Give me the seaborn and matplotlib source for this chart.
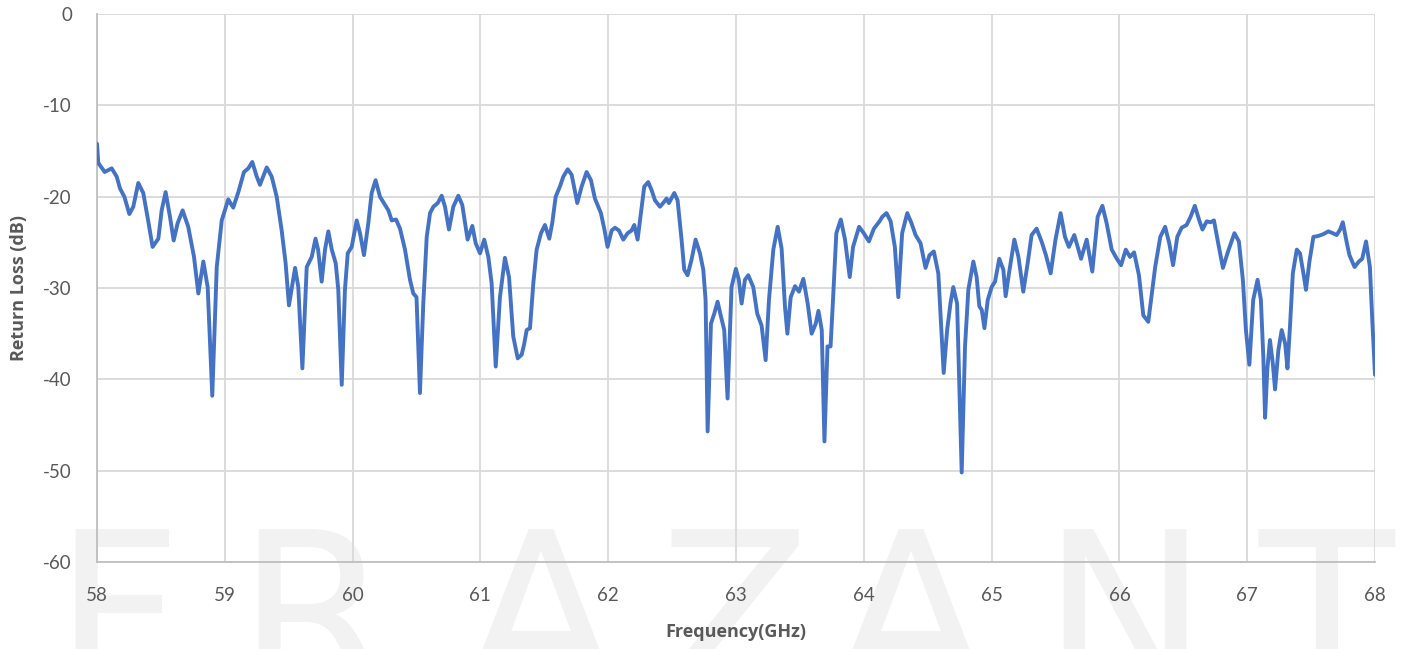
import matplotlib
matplotlib.use("Agg")
import matplotlib.pyplot as plt
from matplotlib.ticker import MultipleLocator
import seaborn as sns
import pandas as pd

freq_ghz = [
    58.00, 58.01, 58.06, 58.115, 58.154, 58.18, 58.214, 58.253, 58.284, 58.323,
    58.362, 58.40, 58.435, 58.48, 58.506, 58.537, 58.571, 58.60, 58.631, 58.67,
    58.714, 58.759, 58.793, 58.832, 58.866, 58.902, 58.937, 58.976, 59.027, 59.066,
    59.106, 59.15, 59.184, 59.215, 59.25, 59.275, 59.328, 59.367, 59.406, 59.445,
    59.476, 59.502, 59.55, 59.575, 59.607, 59.641, 59.68, 59.71, 59.73, 59.758,
    59.784, 59.81, 59.837, 59.868, 59.888, 59.915, 59.94, 59.962, 59.993, 60.032,
    60.058, 60.089, 60.123, 60.149, 60.18, 60.214, 60.254, 60.28, 60.306, 60.34,
    60.371, 60.41, 60.449, 60.475, 60.50, 60.527, 60.553, 60.58, 60.606, 60.632,
    60.666, 60.697, 60.723, 60.754, 60.788, 60.827, 60.858, 60.90, 60.937, 60.963,
    60.997, 61.03, 61.062, 61.088, 61.12, 61.153, 61.192, 61.224, 61.257, 61.292,
    61.323, 61.343, 61.362, 61.388, 61.414, 61.44, 61.474, 61.505, 61.539, 61.562,
    61.589, 61.622, 61.649, 61.683, 61.714, 61.758, 61.792, 61.831, 61.865, 61.896,
    61.943, 61.969, 61.995, 62.027, 62.053, 62.084, 62.118, 62.152, 62.183, 62.204,
    62.23, 62.256, 62.282, 62.313, 62.34, 62.366, 62.405, 62.436, 62.457, 62.475,
    62.517, 62.543, 62.574, 62.595, 62.621, 62.652, 62.684, 62.718, 62.744, 62.762,
    62.778, 62.804, 62.83, 62.856, 62.882, 62.908, 62.934, 62.965, 62.999, 63.022,
    63.044, 63.07, 63.096, 63.135, 63.166, 63.20, 63.232, 63.258, 63.292, 63.326,
    63.357, 63.383, 63.402, 63.428, 63.462, 63.493, 63.527, 63.561, 63.592, 63.624,
    63.645, 63.671, 63.692, 63.716, 63.74, 63.759, 63.785, 63.82, 63.853, 63.89,
    63.916, 63.963, 64.0, 64.04, 64.079, 64.123, 64.145, 64.178, 64.21, 64.243,
    64.27, 64.30, 64.34, 64.373, 64.405, 64.444, 64.483, 64.514, 64.548, 64.583,
    64.607, 64.625, 64.652, 64.678, 64.70, 64.73, 64.745, 64.766, 64.792, 64.818,
    64.857, 64.883, 64.904, 64.923, 64.944, 64.97, 65.0, 65.027, 65.06, 65.092,
    65.11, 65.136, 65.178, 65.21, 65.248, 65.282, 65.313, 65.352, 65.391, 65.425,
    65.462, 65.50, 65.54, 65.574, 65.605, 65.647, 65.70, 65.744, 65.788, 65.83,
    65.867, 65.90, 65.94, 65.98, 66.013, 66.05, 66.083, 66.115, 66.153, 66.187,
    66.226, 66.28, 66.32, 66.358, 66.39, 66.42, 66.453, 66.487, 66.526, 66.557,
    66.59, 66.625, 66.65, 66.683, 66.713, 66.74, 66.773, 66.81, 66.85, 66.90,
    66.935, 66.966, 66.99, 67.017, 67.047, 67.081, 67.107, 67.126, 67.14, 67.157,
    67.178, 67.20, 67.218, 67.244, 67.27, 67.297, 67.315, 67.336, 67.357, 67.388,
    67.413, 67.44, 67.46, 67.487, 67.518, 67.557, 67.596, 67.635, 67.67, 67.70,
    67.727, 67.748, 67.78, 67.80, 67.84, 67.874, 67.90, 67.93, 67.96, 67.98,
    68.0,
]

return_loss_db = [
    -14.2, -16.3, -17.3, -16.9, -17.8, -19.1, -20.0, -21.9, -21.1, -18.5,
    -19.6, -22.6, -25.5, -24.6, -21.5, -19.5, -22.2, -24.8, -22.9, -21.5,
    -23.3, -26.6, -30.6, -27.1, -29.9, -41.8, -27.7, -22.6, -20.3, -21.2,
    -19.5, -17.3, -16.9, -16.2, -17.8, -18.7, -16.8, -17.8, -20.0, -23.7,
    -27.3, -31.9, -27.8, -29.9, -38.8, -27.7, -26.6, -24.6, -25.8, -29.3,
    -25.8, -23.8, -25.8, -27.3, -30.2, -40.6, -30.2, -26.2, -25.5, -22.6,
    -24.0, -26.4, -22.9, -19.6, -18.2, -20.0, -20.9, -21.5, -22.6, -22.5,
    -23.5, -25.8, -29.1, -30.6, -31.0, -41.5, -31.7, -24.4, -21.8, -21.1,
    -20.7, -19.9, -21.1, -23.6, -21.1, -19.9, -20.9, -24.7, -23.2, -25.1,
    -26.2, -24.7, -26.6, -29.5, -38.6, -31.0, -26.7, -28.8, -35.3, -37.7,
    -37.3, -36.1, -34.6, -34.4, -29.5, -25.8, -24.0, -23.1, -24.6, -22.9,
    -20.0, -18.9, -17.8, -17.0, -17.6, -20.7, -18.9, -17.3, -18.2, -20.2,
    -21.8, -23.5, -25.5, -23.7, -23.4, -23.7, -24.7, -24.0, -23.7, -23.1,
    -24.7, -21.8, -18.9, -18.4, -19.3, -20.4, -21.1, -20.6, -20.2, -20.7,
    -19.6, -20.4, -24.7, -28.0, -28.6, -26.9, -24.7, -26.2, -28.0, -31.3,
    -45.7, -33.9, -32.8, -31.5, -33.1, -34.6, -42.1, -29.9, -27.9, -29.1,
    -31.7, -29.1, -28.6, -29.9, -32.8, -34.1, -37.9, -31.3, -25.8, -23.3,
    -25.7, -32.0, -35.0, -31.0, -29.8, -30.4, -29.0, -31.7, -35.0, -33.9,
    -32.5, -34.6, -46.8, -36.4, -36.4, -31.3, -24.0, -22.5, -24.7, -28.8,
    -25.5, -23.3, -24.0, -24.9, -23.5, -22.7, -22.2, -21.8, -22.7, -25.5,
    -31.0, -24.0, -21.8, -22.9, -24.2, -25.1, -27.8, -26.4, -26.0, -28.4,
    -34.6, -39.3, -34.6, -31.7, -29.9, -31.7, -39.3, -50.2, -36.4, -30.2,
    -27.1, -28.8, -32.0, -32.4, -34.4, -31.3, -29.9, -29.3, -26.8, -28.0,
    -30.9, -28.4, -24.7, -26.6, -30.4, -27.3, -24.2, -23.5, -24.9, -26.4,
    -28.4, -24.7, -21.8, -24.4, -25.5, -24.2, -26.8, -24.7, -28.2, -22.2,
    -21.0, -22.9, -25.8, -26.8, -27.5, -25.8, -26.6, -26.1, -28.6, -33.0,
    -33.7, -27.7, -24.4, -23.3, -25.1, -27.5, -24.4, -23.4, -23.1, -22.2,
    -21.0, -22.6, -23.6, -22.7, -22.8, -22.6, -25.1, -27.8, -26.0, -24.0,
    -24.9, -29.1, -34.6, -38.4, -31.3, -29.1, -31.3, -37.5, -44.2, -39.0,
    -35.7, -38.2, -41.1, -36.8, -34.6, -36.1, -38.8, -33.9, -28.4, -25.8,
    -26.2, -28.4, -30.2, -27.1, -24.4, -24.3, -24.1, -23.8, -24.0, -24.2,
    -23.6, -22.8, -25.1, -26.4, -27.7, -27.1, -26.8, -24.9, -27.7, -33.9,
    -39.5,
]

x_ticks = [58, 59, 60, 61, 62, 63, 64, 65, 66, 67, 68]
y_ticks = [0, -10, -20, -30, -40, -50, -60]
watermark_letters = ["F", "R", "A", "Z", "A", "N", "T"]
x_label = "Frequency(GHz)"
y_label = "Return Loss (dB)"

df = pd.DataFrame({"freq": freq_ghz, "rl": return_loss_db})

sns.set_theme(style="white")
plt.rcParams["font.family"] = ["Lato", "DejaVu Sans"]

W, H = 1401, 649
fig = plt.figure(figsize=(W / 100, H / 100), dpi=100, facecolor="white")
ax = fig.add_axes([97 / W, 1 - 562 / H, (1375 - 97) / W, (562 - 14) / H])
ax.set_facecolor("none")
ax.set_zorder(2)

# Watermark
wm_centers = [117, 313, 540, 735, 910, 1124, 1326]
for letter, cx in zip(watermark_letters, wm_centers):
    fig.text(cx / W, 1 - 690 / H, letter, ha="center", va="baseline",
             fontsize=160, color="#f2f2f2", family="DejaVu Sans", zorder=0)

sns.lineplot(data=df, x="freq", y="rl", ax=ax, color="#4472C4", linewidth=2.8,
             estimator=None, sort=True, legend=False, zorder=3)
for ln in ax.lines:
    ln.set_solid_joinstyle("round")
    ln.set_solid_capstyle("round")

ax.set_xlim(58, 68)
ax.set_ylim(-60, 0)
ax.set_xticks(x_ticks)
ax.set_yticks(y_ticks)
ax.set_xticklabels([str(t) for t in x_ticks])
ax.set_yticklabels([str(t) for t in y_ticks])
ax.xaxis.set_minor_locator(MultipleLocator(0.2))
ax.yaxis.set_minor_locator(MultipleLocator(2))

ax.grid(True, which="major", color="#d9d9d9", linewidth=1.3, zorder=1)
ax.set_axisbelow(True)

for side in ["top", "right"]:
    ax.spines[side].set_visible(False)
for side in ["left", "bottom"]:
    ax.spines[side].set_visible(True)
    ax.spines[side].set_color("#bfbfbf")
    ax.spines[side].set_linewidth(1.3)

ax.tick_params(axis="both", which="both", direction="in", color="#bfbfbf",
               width=1.0, labelsize=13.5, labelcolor="#595959")
ax.tick_params(axis="both", which="major", length=0)
ax.tick_params(axis="both", which="minor", length=5)
ax.tick_params(axis="x", which="major", pad=18)
ax.tick_params(axis="y", which="major", pad=18)

ax.set_xlabel(x_label, fontsize=13, fontweight="bold", color="#595959",
              family="Open Sans")
ax.set_ylabel(y_label, fontsize=13, fontweight="bold", color="#595959",
              family="Open Sans")
ax.xaxis.label.set_va("center")
ax.yaxis.label.set_va("center")
ax.xaxis.set_label_coords(0.5, (562 - 632) / 548)
ax.yaxis.set_label_coords((19 - 97) / 1278, 0.5)

fig.savefig("out.png", dpi=100, facecolor="white")
